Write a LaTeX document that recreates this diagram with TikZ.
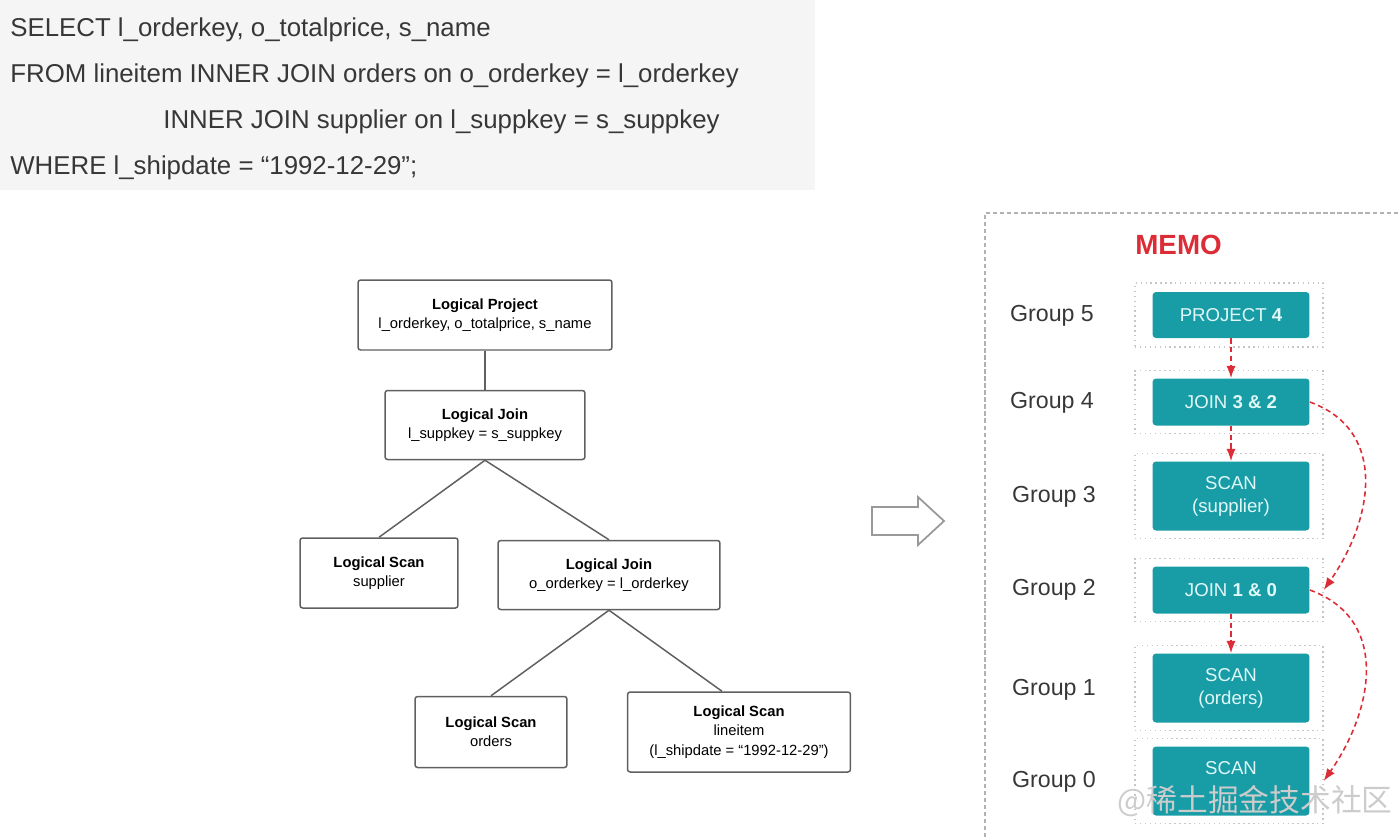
\documentclass[tikz,border=0pt]{standalone}
\usepackage{fontspec}
\setmainfont{Liberation Sans}
\newfontfamily\cjkfont{Noto Sans CJK SC}
\usetikzlibrary{arrows.meta,positioning}
\definecolor{memoteal}{RGB}{24,156,166}
\definecolor{memored}{RGB}{220,45,55}
\definecolor{sqlbg}{RGB}{245,245,245}
\definecolor{inkgray}{RGB}{55,55,55}
\definecolor{optext}{RGB}{225,248,248}

\begin{document}
\begin{tikzpicture}[
  x=0.02cm, y=-0.02cm,
  >=Latex,
  sql/.style={anchor=base west, inner sep=0pt, text=inkgray, font=\fontsize{14.7}{17}\selectfont},
  lnode/.style={draw=gray!75!black, line width=0.85pt, rounded corners=1.5pt, fill=white,
                align=center, inner sep=2pt, font=\fontsize{8.4}{11}\selectfont},
  link/.style={draw=gray!75!black, line width=0.85pt},
  grp/.style={font=\fontsize{13.2}{15}\selectfont, text=inkgray},
  op/.style={fill=memoteal, rounded corners=2pt, text=optext, minimum width=3.14cm,
             align=center, font=\fontsize{10.6}{13}\selectfont},
  slot/.style={draw=gray!45, dotted, line width=0.8pt, minimum width=3.76cm},
  memoarr/.style={->, memored, dash pattern=on 3pt off 2pt, line width=0.9pt},
]
\useasboundingbox (0,0) rectangle (1400,836);

% ===== SQL query =====
\fill[sqlbg] (0,0) rectangle (815,190);
\node[sql] (q1) at (10,36) {SELECT l\_orderkey, o\_totalprice, s\_name};
\node[sql] (q2) at (10,82) {FROM lineitem INNER JOIN orders on o\_orderkey = l\_orderkey};
\node[sql] (q3) at (163,128) {INNER JOIN supplier on l\_suppkey = s\_suppkey};
\node[sql] (q4) at (10,174) {WHERE l\_shipdate = “1992-12-29”;};

% ===== Logical plan tree =====
\node[lnode, minimum width=5.08cm, minimum height=1.4cm] (proj) at (485,315)
  {\textbf{Logical Project}\\l\_orderkey, o\_totalprice, s\_name};
\node[lnode, minimum width=4cm, minimum height=1.38cm] (join1) at (485,425)
  {\textbf{Logical Join}\\l\_suppkey = s\_suppkey};
\node[lnode, minimum width=3.16cm, minimum height=1.4cm] (scansup) at (379,573)
  {\textbf{Logical Scan}\\supplier};
\node[lnode, minimum width=4.44cm, minimum height=1.38cm] (join2) at (609,575)
  {\textbf{Logical Join}\\o\_orderkey = l\_orderkey};
\node[lnode, minimum width=3.04cm, minimum height=1.42cm] (scanord) at (491,732)
  {\textbf{Logical Scan}\\orders};
\node[lnode, minimum width=4.46cm, minimum height=1.6cm] (scanli) at (739,732)
  {\textbf{Logical Scan}\\lineitem\\(l\_shipdate = “1992-12-29”)};

\draw[link] (proj) -- (join1);
\draw[link] (join1.south) -- (scansup.north);
\draw[link] (join1.south) -- (join2.north);
\draw[link] (join2.south) -- (scanord.north);
\draw[link] (join2.south) -- ([xshift=-0.34cm]scanli.north);

% ===== Hollow arrow =====
\draw[gray!80, line width=1pt, line join=miter]
  (872,507) -- (918,507) -- (918,497) -- (944,521) -- (918,545) -- (918,535) -- (872,535) -- cycle;

% ===== MEMO =====
\draw[gray!60, dash pattern=on 2.5pt off 1.5pt, line width=0.8pt] (1405,213) -- (985,213) -- (985,840);
\node[font=\bfseries\fontsize{15.8}{18}\selectfont, text=memored, anchor=west, inner sep=0pt] (memo) at (1135,245) {MEMO};

\node[slot, minimum height=1.28cm] (slot5) at (1229,315) {};
\node[slot, minimum height=1.26cm] (slot4) at (1229,402) {};
\node[slot, minimum height=1.7cm]  (slot3) at (1229,496) {};
\node[slot, minimum height=1.26cm] (slot2) at (1229,590) {};
\node[slot, minimum height=1.7cm]  (slot1) at (1229,688) {};
\node[slot, minimum height=1.7cm]  (slot0) at (1229,781) {};

\node[op, minimum height=0.92cm] (p4)  at (1231,315) {PROJECT \textbf{4}};
\node[op, minimum height=0.94cm] (j32) at (1231,402) {JOIN \textbf{3 \& 2}};
\node[op, minimum height=1.38cm] (s3)  at (1231,496) {SCAN\\(supplier)};
\node[op, minimum height=0.94cm] (j10) at (1231,590) {JOIN \textbf{1 \& 0}};
\node[op, minimum height=1.38cm] (s1)  at (1231,688) {SCAN\\(orders)};
\node[op, minimum height=1.38cm] (s0)  at (1231,781) {SCAN\\\phantom{(orders)}};

\node[grp] (g5) at (1052,316) {Group 5};
\node[grp] (g4) at (1052,403) {Group 4};
\node[grp] (g3) at (1054,497) {Group 3};
\node[grp] (g2) at (1054,590) {Group 2};
\node[grp] (g1) at (1054,690) {Group 1};
\node[grp] (g0) at (1054,782) {Group 0};

\draw[memoarr] (p4.south) -- (j32.north);
\draw[memoarr] (j32.south) -- (s3.north);
\draw[memoarr] (j10.south) -- (s1.north);
\draw[memoarr] (j32.east) to[out=-20, in=55, looseness=1.15] (slot2.east);
\draw[memoarr] (j10.east) to[out=-20, in=55, looseness=1.15] (slot0.east);

% watermark
\node[font=\cjkfont\fontsize{17.5}{20}\selectfont, text=gray!40, inner sep=0pt] (mark) at (1255,801) {@稀土掘金技术社区};

\end{tikzpicture}
\end{document}
